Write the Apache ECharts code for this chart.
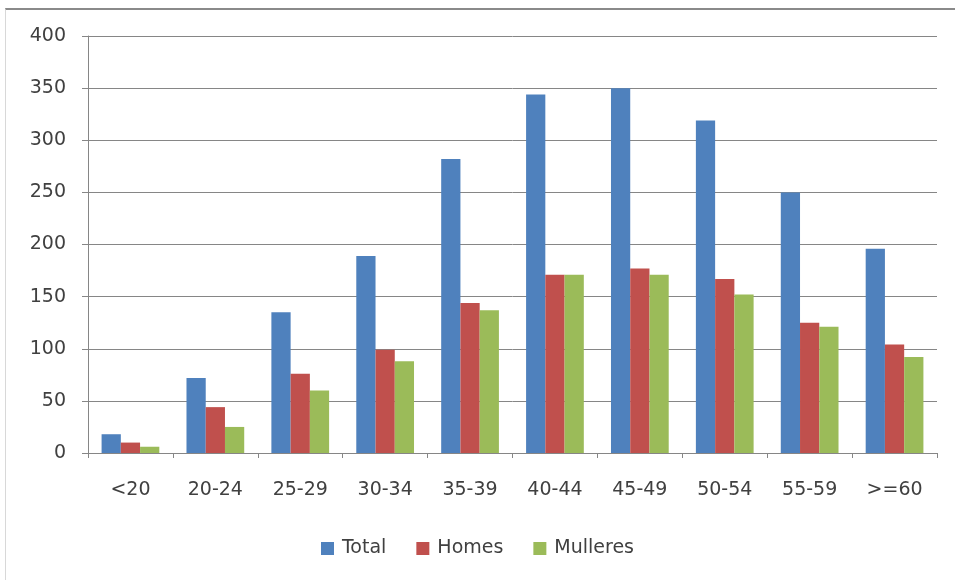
<!DOCTYPE html>
<html><head><meta charset="utf-8">
<script src="https://cdn.jsdelivr.net/npm/echarts@6/dist/echarts.min.js"></script>
<style>
html,body{margin:0;padding:0;background:#fff;}
#frame{position:absolute;left:5px;top:8px;width:960px;height:580px;border-top:2px solid #8a8a8a;border-left:1px solid #d8d8d8;}
#c{position:absolute;left:0;top:0;width:955px;height:580px;}
</style></head>
<body>
<div id="frame"></div>
<div id="c"></div>
<script>
const categories = ['<20','20-24','25-29','30-34','35-39','40-44','45-49','50-54','55-59','>=60'];
const total = [18, 72, 135, 189, 282, 344, 350, 319, 250, 196];
const homes = [10, 44, 76, 99, 144, 171, 177, 167, 125, 104];
const mulleres = [6, 25, 60, 88, 137, 171, 171, 152, 121, 92];
const yTicks = {min: 0, max: 400, interval: 50};

const chart = echarts.init(document.getElementById('c'), null, {renderer: 'canvas'});
const font = 'DejaVu Sans';
const mk = (name, data, color) => ({
  name, type: 'bar', data, barGap: '0%', barCategoryGap: '32%',
  itemStyle: {color}
});
chart.setOption({
  animation: false,
  backgroundColor: 'transparent',
  grid: {left: 88, right: 18, top: 36, bottom: 127},
  legend: {
    bottom: 17, left: 'center', itemWidth: 13, itemHeight: 13, itemGap: 30, icon: 'rect',
    textStyle: {fontFamily: font, fontSize: 19, color: '#404040', padding: [0, 0, 0, 3]},
    data: ['Total', 'Homes', 'Mulleres']
  },
  xAxis: {
    type: 'category', data: categories, boundaryGap: true,
    axisLine: {lineStyle: {color: '#868686', width: 1}},
    axisTick: {show: true, length: 5, lineStyle: {color: '#868686'}},
    axisLabel: {fontFamily: font, fontSize: 19, color: '#404040', margin: 28}
  },
  yAxis: {
    type: 'value', min: yTicks.min, max: yTicks.max, interval: yTicks.interval,
    axisLine: {show: true, lineStyle: {color: '#868686', width: 1}},
    axisTick: {show: true, length: 6, lineStyle: {color: '#868686'}},
    axisLabel: {fontFamily: font, fontSize: 19, color: '#404040', margin: 22},
    splitLine: {lineStyle: {color: '#868686', width: 1}}
  },
  series: [
    mk('Total', total, '#4F81BD'),
    mk('Homes', homes, '#C0504D'),
    mk('Mulleres', mulleres, '#9BBB59')
  ]
});
</script>
</body></html>
